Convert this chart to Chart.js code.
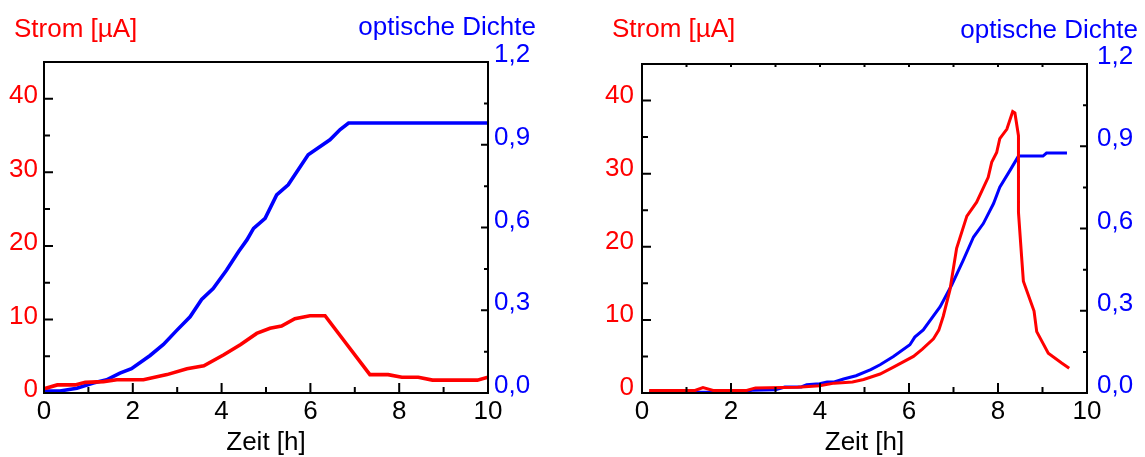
<!DOCTYPE html>
<html>
<head>
<meta charset="utf-8">
<script src="https://cdn.jsdelivr.net/npm/chart.js@4.4.1/dist/chart.umd.min.js"></script>
<style>
html, body { margin: 0; padding: 0; background: #fff; }
#wrap { position: relative; width: 1145px; height: 457px; }
canvas { position: absolute; top: 0; }
#links { left: 0; }
#rechts { left: 570px; }
</style>
</head>
<body>
<div id="wrap">
  <canvas id="links" width="570" height="457"></canvas>
  <canvas id="rechts" width="575" height="457"></canvas>
</div>
<script>
// Achsenbeschriftung
const zeitTicks = [0, 2, 4, 6, 8, 10];
const stromTicks = [0, 10, 20, 30, 40];
const dichteTicks = [0, 0.3, 0.6, 0.9, 1.2];

// linkes Diagramm
const linksStromZeit = [0.02, 0.3, 0.7, 0.93, 1.34, 1.64, 2.24, 2.77, 3.22, 3.6, 4.05, 4.43, 4.79, 5.09, 5.35, 5.65, 5.99, 6.33, 6.81, 7.34, 7.75, 8.06, 8.43, 8.75, 9.76, 10];
const linksStrom = [0.6, 1.1, 1.1, 1.45, 1.55, 1.8, 1.8, 2.5, 3.3, 3.7, 5.2, 6.6, 8.1, 8.8, 9.1, 10.1, 10.5, 10.5, 6.7, 2.5, 2.5, 2.15, 2.15, 1.75, 1.75, 2.15];
const linksDichteZeit = [0, 0.36, 0.74, 1.11, 1.41, 1.71, 1.97, 2.39, 2.69, 2.99, 3.29, 3.55, 3.81, 4.11, 4.38, 4.57, 4.72, 4.98, 5.24, 5.5, 5.95, 6.44, 6.67, 6.86, 10];
const linksDichte = [0.007, 0.007, 0.017, 0.036, 0.048, 0.072, 0.088, 0.136, 0.176, 0.227, 0.276, 0.339, 0.379, 0.445, 0.512, 0.555, 0.597, 0.633, 0.718, 0.755, 0.864, 0.918, 0.955, 0.979, 0.979];

// rechtes Diagramm
const rechtsStromZeit = [0.16, 1.19, 1.37, 1.6, 2.35, 2.55, 3.5, 3.99, 4.32, 4.73, 4.98, 5.35, 5.64, 6.1, 6.3, 6.55, 6.67, 6.77, 6.92, 7.07, 7.3, 7.52, 7.78, 7.86, 7.97, 8.04, 8.2, 8.33, 8.38, 8.46, 8.46, 8.53, 8.57, 8.81, 8.87, 9.13, 9.43, 9.6];
const rechtsStrom = [0.35, 0.35, 0.75, 0.35, 0.35, 0.7, 0.8, 1.0, 1.35, 1.5, 1.85, 2.6, 3.5, 5.0, 6.0, 7.4, 8.6, 10.5, 14.1, 19.8, 24.2, 26.1, 29.5, 31.6, 32.9, 34.8, 36.1, 38.5, 38.3, 35.2, 24.7, 18.7, 15.3, 11.2, 8.4, 5.45, 4.1, 3.4];
const rechtsDichteZeit = [0.16, 2.26, 2.47, 3.0, 3.21, 3.58, 3.7, 3.99, 4.16, 4.32, 4.53, 4.81, 5.14, 5.35, 5.65, 6.02, 6.13, 6.32, 6.7, 6.96, 7.22, 7.45, 7.67, 7.9, 8.04, 8.27, 8.46, 9.01, 9.09, 9.55];
const rechtsDichte = [0.003, 0.003, 0.01, 0.012, 0.022, 0.022, 0.03, 0.034, 0.04, 0.04, 0.051, 0.063, 0.085, 0.103, 0.133, 0.176, 0.204, 0.23, 0.315, 0.394, 0.485, 0.569, 0.618, 0.691, 0.751, 0.812, 0.864, 0.864, 0.875, 0.875];

Chart.defaults.font.family = '"Liberation Sans", Arial, sans-serif';

const schrift = '26px "Liberation Sans", Arial, sans-serif';

// Zwischenwerte fuer die kleinen Striche
function mitten(werte) {
    const m = [];
    for (let i = 1; i < werte.length; i++) m.push((werte[i - 1] + werte[i]) / 2);
    return m;
}

// Rahmen, Striche nach innen und die beiden Ueberschriften
const rahmen = {
    id: 'rahmen',
    afterDraw(chart, args, opts) {
        const { ctx, chartArea: a, scales } = chart;
        ctx.save();
        ctx.strokeStyle = '#000';
        ctx.lineWidth = 2;
        ctx.beginPath();
        zeitTicks.forEach(v => {
            const px = scales.x.getPixelForValue(v);
            ctx.moveTo(px, a.bottom); ctx.lineTo(px, a.bottom - 10);
            if (opts.obenStriche) { ctx.moveTo(px, a.top); ctx.lineTo(px, a.top + 3); }
        });
        mitten(zeitTicks).forEach(v => {
            const px = scales.x.getPixelForValue(v);
            ctx.moveTo(px, a.bottom); ctx.lineTo(px, a.bottom - 6);
            if (opts.obenStriche) { ctx.moveTo(px, a.top); ctx.lineTo(px, a.top + 3); }
        });
        stromTicks.forEach(v => {
            const py = scales.y.getPixelForValue(v);
            ctx.moveTo(a.left, py); ctx.lineTo(a.left + 9, py);
        });
        mitten(stromTicks).forEach(v => {
            const py = scales.y.getPixelForValue(v);
            ctx.moveTo(a.left, py); ctx.lineTo(a.left + 6, py);
        });
        dichteTicks.forEach(v => {
            const py = scales.y1.getPixelForValue(v);
            ctx.moveTo(a.right, py); ctx.lineTo(a.right - 7, py);
        });
        mitten(dichteTicks).forEach(v => {
            const py = scales.y1.getPixelForValue(v);
            ctx.moveTo(a.right, py); ctx.lineTo(a.right - 4, py);
        });
        ctx.stroke();
        ctx.strokeRect(a.left, a.top, a.right - a.left, a.bottom - a.top);

        ctx.font = schrift;
        ctx.textBaseline = 'alphabetic';
        ctx.fillStyle = '#ff0000';
        ctx.textAlign = 'left';
        ctx.fillText('Strom [µA]', a.left + opts.stromDx, opts.stromY);
        ctx.fillStyle = '#0000ff';
        ctx.textAlign = 'right';
        ctx.fillText('optische Dichte', a.right + opts.dichteDx, opts.dichteY);
        ctx.restore();
    }
};

function punkte(xs, ys) {
    return xs.map((t, i) => ({ x: t, y: ys[i] }));
}

function diagramm(id, stromZeit, strom, dichteZeit, dichte, lay) {
    return new Chart(document.getElementById(id), {
        type: 'line',
        data: {
            datasets: [{
                label: 'Strom [µA]',
                data: punkte(stromZeit, strom),
                yAxisID: 'y',
                borderColor: '#ff0000',
                borderWidth: lay.linie,
                pointRadius: 0,
                tension: 0,
                fill: false
            }, {
                label: 'optische Dichte',
                data: punkte(dichteZeit, dichte),
                yAxisID: 'y1',
                borderColor: '#0000ff',
                borderWidth: lay.linie,
                pointRadius: 0,
                tension: 0,
                fill: false
            }]
        },
        options: {
            responsive: false,
            animation: false,
            layout: { padding: { left: 0, right: lay.rechts, top: lay.oben, bottom: 0 } },
            plugins: {
                legend: { display: false },
                tooltip: { enabled: false },
                rahmen: lay.text
            },
            scales: {
                x: {
                    type: 'linear',
                    position: 'bottom',
                    min: 0,
                    max: 10,
                    afterBuildTicks: s => { s.ticks = zeitTicks.map(v => ({ value: v })); },
                    afterFit: s => { s.height = lay.xHoehe; },
                    grid: { display: false, drawTicks: false },
                    border: { display: false },
                    ticks: { color: '#000', font: { size: 26 }, padding: 3, maxRotation: 0, autoSkip: false },
                    title: { display: true, text: 'Zeit [h]', color: '#000', font: { size: 26 }, padding: { top: 0, bottom: -1 } }
                },
                y: {
                    position: 'left',
                    min: 0,
                    max: 45,
                    afterBuildTicks: s => { s.ticks = stromTicks.map(v => ({ value: v })); },
                    afterFit: s => { s.width = lay.yBreite; },
                    grid: { display: false, drawTicks: false },
                    border: { display: false },
                    ticks: { color: '#ff0000', font: { size: 26 }, padding: lay.yAbstand, labelOffset: lay.yVersatz, autoSkip: false }
                },
                y1: {
                    position: 'right',
                    min: 0,
                    max: 1.2,
                    afterBuildTicks: s => { s.ticks = dichteTicks.map(v => ({ value: v })); },
                    afterFit: s => { s.width = 50; },
                    grid: { display: false, drawTicks: false },
                    border: { display: false },
                    ticks: {
                        color: '#0000ff',
                        font: { size: 26 },
                        padding: lay.y1Abstand,
                        labelOffset: -7,
                        autoSkip: false,
                        callback: v => v.toFixed(1).replace('.', ',')
                    }
                }
            }
        },
        plugins: [rahmen]
    });
}

diagramm('links', linksStromZeit, linksStrom, linksDichteZeit, linksDichte, {
    linie: 3.6, rechts: 32, oben: 62, xHoehe: 64, yBreite: 44, yAbstand: 6, yVersatz: -3, y1Abstand: 6,
    text: { stromDx: -30, stromY: 37, dichteDx: 48, dichteY: 35, obenStriche: false }
});

diagramm('rechts', rechtsStromZeit, rechtsStrom, rechtsDichteZeit, rechtsDichte, {
    linie: 3, rechts: 8, oben: 64, xHoehe: 64, yBreite: 72, yAbstand: 8, yVersatz: -5, y1Abstand: 10,
    text: { stromDx: -30, stromY: 37, dichteDx: 51, dichteY: 38, obenStriche: true }
});
</script>
</body>
</html>
